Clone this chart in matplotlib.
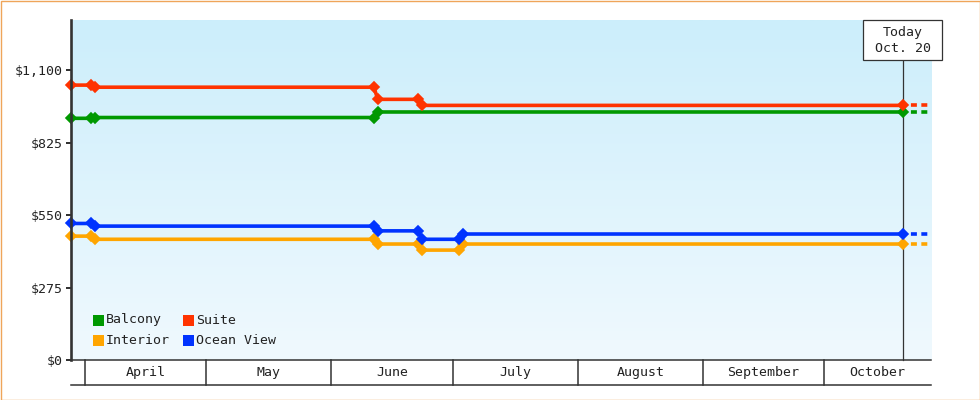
import matplotlib
matplotlib.use("Agg")
import matplotlib.pyplot as plt
import matplotlib.dates as mdates
import matplotlib.transforms as mtransforms
from matplotlib.patches import Rectangle
from matplotlib.colors import LinearSegmentedColormap
import numpy as np
import pandas as pd

plt.rcParams['font.family'] = ['DejaVu Sans Mono']
plt.rcParams['lines.scale_dashes'] = False

# ---------------- data ----------------
dates_suite = ["2023-03-28", "2023-04-02", "2023-04-03", "2023-06-11", "2023-06-12",
               "2023-06-22", "2023-06-23", "2023-10-20"]
suite = [1043, 1043, 1035, 1035, 989, 989, 966, 966]

dates_balcony = ["2023-03-28", "2023-04-02", "2023-04-03", "2023-06-11", "2023-06-12",
                 "2023-10-20"]
balcony = [917, 917, 920, 920, 941, 941]

dates_ocean = ["2023-03-28", "2023-04-02", "2023-04-03", "2023-06-11", "2023-06-12",
               "2023-06-22", "2023-06-23", "2023-07-02", "2023-07-03", "2023-10-20"]
ocean = [518, 518, 508, 508, 490, 490, 458, 458, 478, 478]

dates_interior = ["2023-03-28", "2023-04-02", "2023-04-03", "2023-06-11", "2023-06-12",
                  "2023-06-22", "2023-06-23", "2023-07-02", "2023-07-03", "2023-10-20"]
interior = [470, 470, 458, 458, 440, 440, 417, 417, 440, 440]

series_names = ["Balcony", "Suite", "Interior", "Ocean View"]
series_colors = ["#009900", "#FF3300", "#FFA500", "#0033FF"]

months = ["April", "May", "June", "July", "August", "September", "October"]
yticks = [0, 275, 550, 825, 1100]
today_label = "Today\nOct. 20"
today_date = "2023-10-20"

# ---------------- figure ----------------
W, H = 980, 400
fig = plt.figure(figsize=(W / 100, H / 100), dpi=100)
ax = fig.add_axes([71 / W, 40 / H, 860 / W, 340 / H])

noon = pd.Timedelta(hours=12)
def conv(ds):
    return mdates.date2num(pd.to_datetime(ds) + noon)

today = conv([today_date])[0]
xmin = conv([dates_suite[0]])[0]
xmax = today + 7.0
ymin, ymax = 0, 1290

# gradient background
cmap = LinearSegmentedColormap.from_list("bg", ["#F0F9FE", "#CCEEFB"])
grad = np.linspace(0, 1, 256).reshape(-1, 1)
ax.imshow(grad, extent=[0, 1, 0, 1], transform=ax.transAxes, origin="lower",
          aspect="auto", cmap=cmap, zorder=0)

# today line (from plot bottom up to the bottom of the label box)
ax.plot([today, today], [ymin, ymax - (ymax - ymin) * 40 / 340],
        color="#333333", lw=0.9, zorder=2, clip_on=False)

lw = 2.6
data = {
    "Balcony": (dates_balcony, balcony),
    "Suite": (dates_suite, suite),
    "Interior": (dates_interior, interior),
    "Ocean View": (dates_ocean, ocean),
}
order = ["Interior", "Ocean View", "Balcony", "Suite"]
for name in order:
    ds, vals = data[name]
    col = series_colors[series_names.index(name)]
    x = conv(ds)
    ax.plot(x, vals, color=col, lw=lw, marker="D", ms=4.8, mew=1.2, mec=col,
            mfc=col, zorder=4, clip_on=False, solid_joinstyle="miter")
    ax.plot([x[-1], xmax], [vals[-1], vals[-1]], color=col, lw=lw,
            linestyle=(1.8, (4.3, 3.2)), zorder=3, clip_on=False)

ax.set_xlim(xmin, xmax)
ax.set_ylim(ymin, ymax)

# axes styling
for s in ["top", "right"]:
    ax.spines[s].set_visible(False)
ax.spines["left"].set_color("#333333")
ax.spines["left"].set_linewidth(1.9)
ax.spines["bottom"].set_color("#333333")
ax.spines["bottom"].set_linewidth(1.1)
ax.spines["left"].set_zorder(5)
ax.set_xticks([])
ax.set_yticks(yticks)
ax.set_yticklabels([f"${v:,}" for v in yticks])
ax.tick_params(axis="y", direction="out", length=3.6, width=1.44, color="#333333",
               labelsize=9.5, pad=2.2, labelcolor="#222222")

# month band below the plot
trans = mtransforms.blended_transform_factory(ax.transData, ax.transAxes)
band = -25 / 340
starts = pd.date_range("2023-04-01", periods=len(months) + 1, freq="MS")
snum = mdates.date2num(starts)
for i, m in enumerate(months):
    a, b = snum[i], snum[i + 1]
    if xmin <= a <= xmax:
        ax.plot([a, a], [0, band], transform=trans, color="#333333", lw=1.1,
                clip_on=False)
    ca, cb = max(a, xmin), min(b, xmax)
    ax.text((ca + cb) / 2, band / 2, m, transform=trans, ha="center", va="center",
            fontsize=9.5, color="#222222")
ax.plot([0, 1], [band, band], transform=ax.transAxes, color="#333333", lw=1.1,
        clip_on=False)

# today box
fx = (today - xmin) / (xmax - xmin)
cx = 71 + fx * 860
bw, bh = 79, 40
fig.patches.append(Rectangle(((cx - bw / 2) / W, 1 - (20 + bh) / H), bw / W, bh / H,
                             transform=fig.transFigure, facecolor="white",
                             edgecolor="#333333", lw=0.9, zorder=6))
fig.text(cx / W, 1 - 40.5 / H, today_label, ha="center", va="center", fontsize=9.5,
         color="#222222", linespacing=1.3, zorder=7)

# legend
for i, (name, col) in enumerate(zip(series_names, series_colors)):
    c, r = i % 2, i // 2
    x0 = 93 + c * 90
    y0 = 320 + r * 20
    fig.patches.append(Rectangle((x0 / W, 1 - (y0 + 5.5) / H), 10.5 / W, 10.5 / H,
                                 transform=fig.transFigure, facecolor=col,
                                 edgecolor="none", zorder=6))
    fig.text((x0 + 13) / W, 1 - y0 / H, name, ha="left", va="center",
             fontsize=9.5, color="#222222", zorder=7)

# outer border
fig.patches.append(Rectangle((0.5 / W, 0.5 / H), 1 - 1 / W, 1 - 1 / H,
                             transform=fig.transFigure, fill=False,
                             edgecolor="#EFA55A", lw=1.0, zorder=10))

fig.savefig("out.png", dpi=100)
